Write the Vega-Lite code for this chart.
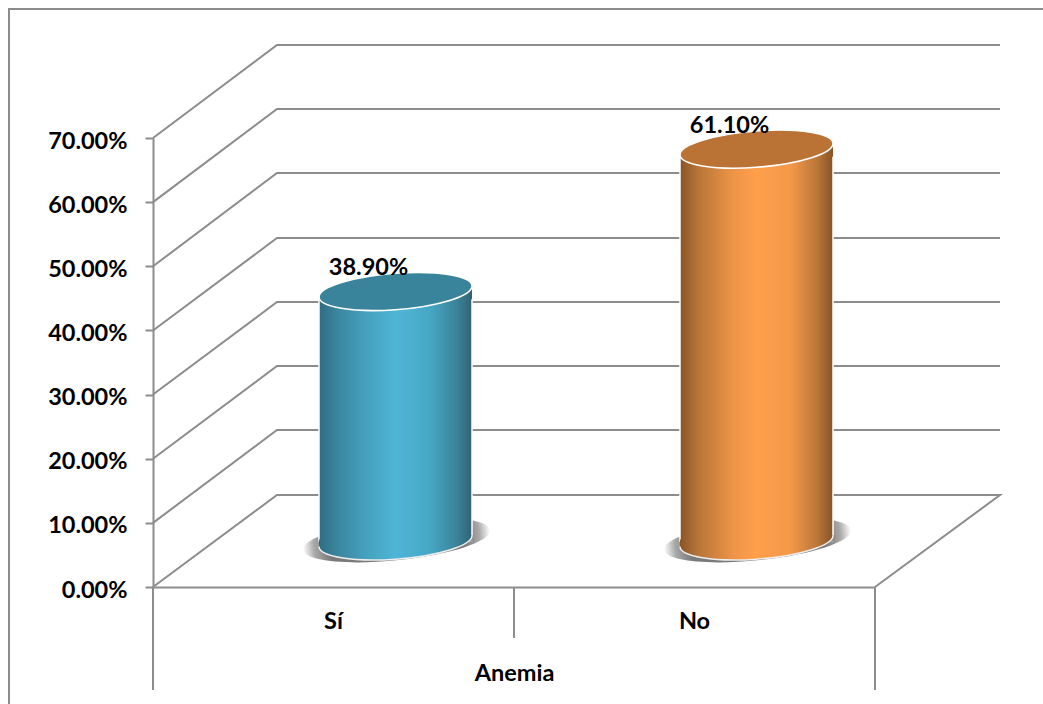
{
"$schema":"https://vega.github.io/schema/vega-lite/v6.json",
"autosize":{"type":"none"},
"padding":{"left":153,"top":138,"right":168,"bottom":117},
"width":722,"height":449,
"background":"white",
"config":{"view":{"stroke":null}},
"datasets":{
"anemia":[{"Anemia":"Sí","valor":0.389},{"Anemia":"No","valor":0.611}],
"lineas":[
{"linea":"70","paso":1,"px":0,"v":0.7},{"linea":"70","paso":2,"px":124,"v":0.845},{"linea":"70","paso":3,"px":847,"v":0.845},
{"linea":"60","paso":1,"px":0,"v":0.6},{"linea":"60","paso":2,"px":124,"v":0.7452},{"linea":"60","paso":3,"px":847,"v":0.7452},
{"linea":"50","paso":1,"px":0,"v":0.5},{"linea":"50","paso":2,"px":124,"v":0.6455},{"linea":"50","paso":3,"px":847,"v":0.6455},
{"linea":"40","paso":1,"px":0,"v":0.4},{"linea":"40","paso":2,"px":124,"v":0.5441},{"linea":"40","paso":3,"px":847,"v":0.5441},
{"linea":"30","paso":1,"px":0,"v":0.3},{"linea":"30","paso":2,"px":124,"v":0.4443},{"linea":"30","paso":3,"px":847,"v":0.4443},
{"linea":"20","paso":1,"px":0,"v":0.2},{"linea":"20","paso":2,"px":124,"v":0.3446},{"linea":"20","paso":3,"px":847,"v":0.3446},
{"linea":"10","paso":1,"px":0,"v":0.1},{"linea":"10","paso":2,"px":124,"v":0.2448},{"linea":"10","paso":3,"px":847,"v":0.2448},
{"linea":"0","paso":1,"px":0,"v":0},{"linea":"0","paso":2,"px":124,"v":0.1434},{"linea":"0","paso":3,"px":847,"v":0.1434},{"linea":"0","paso":4,"px":722,"v":0},
{"linea":"div0","paso":1,"px":0,"v":0},{"linea":"div0","paso":2,"px":0,"v":-0.1606},
{"linea":"div1","paso":1,"px":361,"v":0},{"linea":"div1","paso":2,"px":361,"v":-0.0795},
{"linea":"div2","paso":1,"px":722,"v":0},{"linea":"div2","paso":2,"px":722,"v":-0.1606},
{"linea":"marco","paso":1,"px":-144,"v":-0.1824},{"linea":"marco","paso":2,"px":-144,"v":0.9012},{"linea":"marco","paso":3,"px":890,"v":0.9012}
]},
"resolve":{"scale":{"x":"independent"},"axis":{"x":"independent"}},
"layer":[
{"data":{"name":"lineas"},
 "mark":{"type":"line","stroke":"#8c8c8c","strokeWidth":2,"interpolate":"linear"},
 "encoding":{
  "x":{"field":"px","type":"quantitative","scale":{"domain":[0,722],"nice":false,"zero":false},"axis":null},
  "y":{"field":"v","type":"quantitative","scale":{"domain":[0,0.7],"nice":false,"zero":false},
   "axis":{"title":null,"format":".2%","values":[0,0.1,0.2,0.3,0.4,0.5,0.6,0.7],"grid":false,"domainColor":"#8c8c8c","domainWidth":2,"tickColor":"#8c8c8c","tickWidth":2,"tickSize":8,"labelPadding":18,"labelOffset":3,"labelFont":"Lato","labelFontWeight":"bold","labelFontSize":23.5,"labelColor":"#000000"}},
  "detail":{"field":"linea"},
  "order":{"field":"paso"}}},
{"data":{"name":"anemia"},
 "layer":[
 {"mark":{"type":"point","filled":true,"xOffset":63,"yOffset":-47,"size":35344,"angle":-6,"opacity":1,"strokeWidth":0,"shape":"M1,0C1,0.12,0.55,0.215,0,0.215C-0.55,0.215,-1,0.12,-1,0C-1,-0.12,-0.55,-0.215,0,-0.215C0.55,-0.215,1,-0.12,1,0Z",
   "fill":{"gradient":"radial","x1":0.5,"y1":0.5,"r1":0,"x2":0.5,"y2":0.5,"r2":0.5,"stops":[{"offset":0,"color":"#7a7a7a"},{"offset":0.72,"color":"#7a7a7a"},{"offset":0.88,"color":"#a8a8a8"},{"offset":1,"color":"#ffffff"}]}},
  "encoding":{"y":{"datum":0}}},
 {"mark":{"type":"bar","width":153,"xOffset":62,"yOffset":-46,"y2Offset":-46,"stroke":"white","strokeWidth":1.5},
  "encoding":{"y":{"field":"valor","type":"quantitative"},"y2":{"datum":0},
   "fill":{"condition":{"test":"datum.Anemia==='Sí'","value":{"gradient":"linear","x1":0,"y1":0,"x2":1,"y2":0,"stops":[{"offset":0,"color":"#2f6d82"},{"offset":0.12,"color":"#3a869e"},{"offset":0.3,"color":"#45a0bd"},{"offset":0.5,"color":"#4fb5d7"},{"offset":0.72,"color":"#47a8c6"},{"offset":0.9,"color":"#3a8399"},{"offset":1,"color":"#2f6372"}]}},
    "value":{"gradient":"linear","x1":0,"y1":0,"x2":1,"y2":0,"stops":[{"offset":0,"color":"#8a5427"},{"offset":0.12,"color":"#b87538"},{"offset":0.35,"color":"#ee9448"},{"offset":0.5,"color":"#ff9f4b"},{"offset":0.72,"color":"#f4994a"},{"offset":0.9,"color":"#b97638"},{"offset":1,"color":"#875325"}]}}}},
 {"mark":{"type":"point","filled":true,"xOffset":62,"yOffset":-46,"size":23409,"strokeWidth":0,"shape":"M1,-0.0732C1,0.0582,0.5523,0.1976,0,0.238C-0.5523,0.2784,-1,0.2046,-1,0.0732L-1,-0.02L1,-0.0732Z","opacity":1},
  "encoding":{"y":{"datum":0},
   "fill":{"condition":{"test":"datum.Anemia==='Sí'","value":{"gradient":"linear","x1":0,"y1":0,"x2":1,"y2":0,"stops":[{"offset":0,"color":"#2f6d82"},{"offset":0.12,"color":"#3a869e"},{"offset":0.3,"color":"#45a0bd"},{"offset":0.5,"color":"#4fb5d7"},{"offset":0.72,"color":"#47a8c6"},{"offset":0.9,"color":"#3a8399"},{"offset":1,"color":"#2f6372"}]}},
    "value":{"gradient":"linear","x1":0,"y1":0,"x2":1,"y2":0,"stops":[{"offset":0,"color":"#8a5427"},{"offset":0.12,"color":"#b87538"},{"offset":0.35,"color":"#ee9448"},{"offset":0.5,"color":"#ff9f4b"},{"offset":0.72,"color":"#f4994a"},{"offset":0.9,"color":"#b97638"},{"offset":1,"color":"#875325"}]}}}},
 {"mark":{"type":"point","filled":true,"fill":"#8f8f8f","opacity":1,"strokeWidth":0,"xOffset":62,"yOffset":-46,"size":23409,"shape":"M1.03,-0.0732L1.03,0.01L0.945,0.01L0.98,-0.0244L1,-0.0732Z"},
  "encoding":{"y":{"datum":0}}},
 {"mark":{"type":"point","filled":false,"fill":null,"stroke":"#eeeeee","strokeWidth":1.5,"opacity":1,"xOffset":62,"yOffset":-46,"size":23409,"shape":"M1,-0.0732C1,0.0582,0.5523,0.1976,0,0.238C-0.5523,0.2784,-1,0.2046,-1,0.0732"},
  "encoding":{"y":{"datum":0}}},
 {"mark":{"type":"point","filled":true,"xOffset":62,"yOffset":-46,"size":23409,"strokeWidth":0,"opacity":1,"shape":"M1,-0.0732L1,0.1L-1,0.1L-1,0.0732Z"},
  "encoding":{"y":{"field":"valor","type":"quantitative"},
   "fill":{"condition":{"test":"datum.Anemia==='Sí'","value":{"gradient":"linear","x1":0,"y1":0,"x2":1,"y2":0,"stops":[{"offset":0,"color":"#2f6d82"},{"offset":0.12,"color":"#3a869e"},{"offset":0.3,"color":"#45a0bd"},{"offset":0.5,"color":"#4fb5d7"},{"offset":0.72,"color":"#47a8c6"},{"offset":0.9,"color":"#3a8399"},{"offset":1,"color":"#2f6372"}]}},
    "value":{"gradient":"linear","x1":0,"y1":0,"x2":1,"y2":0,"stops":[{"offset":0,"color":"#8a5427"},{"offset":0.12,"color":"#b87538"},{"offset":0.35,"color":"#ee9448"},{"offset":0.5,"color":"#ff9f4b"},{"offset":0.72,"color":"#f4994a"},{"offset":0.9,"color":"#b97638"},{"offset":1,"color":"#875325"}]}}}},
 {"mark":{"type":"point","filled":true,"fill":"white","opacity":1,"strokeWidth":0,"xOffset":62,"yOffset":-46,"size":23409,"shape":"M-1.03,0.0732L-1.03,-0.01L-0.945,-0.01L-0.98,0.0244L-1,0.0732Z"},
  "encoding":{"y":{"field":"valor","type":"quantitative"}}},
 {"mark":{"type":"point","filled":true,"opacity":1,"stroke":"white","strokeWidth":1.6,"xOffset":62,"yOffset":-46,"size":23409,"shape":"M1,-0.0732C1,0.0582,0.5523,0.1976,0,0.238C-0.5523,0.2784,-1,0.2046,-1,0.0732C-1,-0.0582,-0.5523,-0.1976,0,-0.238C0.5523,-0.2784,1,-0.2046,1,-0.0732Z"},
  "encoding":{"y":{"field":"valor","type":"quantitative"},
   "fill":{"condition":{"test":"datum.Anemia==='Sí'","value":"#3a849b"},"value":"#ba7335"}}},
 {"mark":{"type":"text","font":"Lato","fontWeight":"bold","fontSize":23.5,"color":"#000000","xOffset":35,"yOffset":-62,"baseline":"alphabetic","align":"center"},
  "encoding":{"y":{"field":"valor","type":"quantitative"},"text":{"field":"valor","format":".2%"}}}
 ],
 "encoding":{
  "x":{"field":"Anemia","type":"nominal","sort":null,"scale":{"paddingInner":0,"paddingOuter":0},
   "axis":{"title":"Anemia","labelAngle":0,"ticks":false,"domainColor":"#8c8c8c","domainWidth":2,"labelPadding":34,"labelBaseline":"middle","labelFont":"Lato","labelFontWeight":"bold","labelFontSize":23.5,"labelColor":"#000000","titleFont":"Lato","titleFontWeight":"bold","titleFontSize":23.5,"titleColor":"#000000","titlePadding":29}}
 }}
]}
